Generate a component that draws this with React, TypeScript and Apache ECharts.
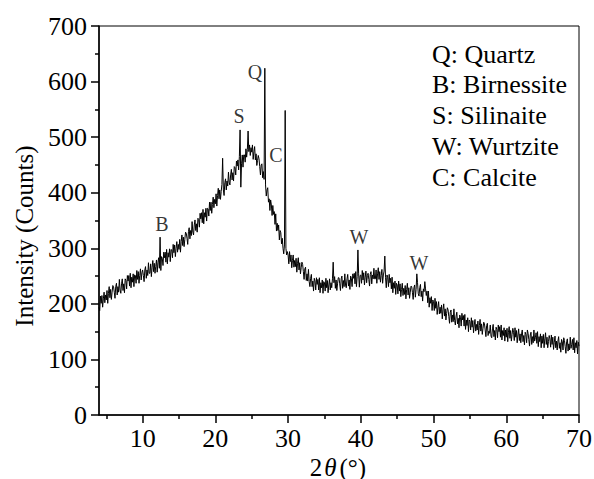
import React, { useEffect, useRef } from "react";
import * as echarts from "echarts";

// 2θ sampling: each segment starts at the given angle, step 0.1°
const STEP = 0.1;

// Intensity (counts), 4.0° – 19.9° (one row per degree)
const seg04 = [
  194, 188, 214, 201, 215, 194, 209, 221, 202, 216,
  207, 224, 201, 219, 231, 211, 226, 208, 221, 233,
  231, 221, 210, 231, 237, 216, 231, 221, 244, 225,
  219, 236, 245, 224, 236, 220, 245, 242, 227, 251,
  241, 251, 232, 255, 229, 248, 239, 254, 231, 252,
  251, 237, 260, 244, 258, 237, 251, 263, 243, 256,
  261, 251, 240, 261, 267, 246, 261, 251, 274, 255,
  255, 272, 249, 266, 278, 258, 273, 255, 267, 279,
  257, 274, 283, 264, 320, 260, 285, 282, 269, 293,
  283, 293, 275, 298, 272, 292, 284, 299, 276, 298,
  297, 283, 307, 292, 306, 285, 300, 312, 293, 307,
  298, 316, 293, 312, 324, 305, 320, 303, 316, 329,
  327, 318, 307, 330, 337, 317, 332, 323, 348, 329,
  324, 342, 351, 332, 344, 329, 354, 352, 338, 363,
  353, 364, 346, 370, 344, 364, 356, 372, 349, 372,
  371, 358, 383, 368, 383, 363, 379, 392, 373, 388,
];
// 20.0° – 35.9°
const seg20 = [
  380, 398, 376, 395, 408, 389, 405, 388, 402, 415,
  462, 405, 395, 418, 425, 405, 421, 412, 437, 419,
  414, 432, 442, 423, 436, 421, 447, 445, 432, 457,
  448, 459, 441, 465, 513, 410, 452, 468, 446, 468,
  468, 455, 479, 464, 478, 511, 474, 486, 467, 481,
  473, 486, 460, 474, 483, 459, 470, 449, 458, 467,
  461, 447, 432, 450, 452, 427, 438, 424, 624, 414,
  394, 405, 409, 383, 389, 368, 387, 378, 359, 377,
  361, 366, 343, 362, 331, 345, 332, 342, 315, 332,
  328, 308, 318, 300, 290, 306, 548, 300, 288, 294,
  288, 272, 294, 276, 288, 265, 278, 288, 266, 278,
  267, 282, 257, 273, 283, 261, 274, 254, 265, 275,
  271, 258, 244, 263, 266, 242, 254, 241, 262, 240,
  231, 246, 253, 231, 241, 223, 246, 241, 225, 247,
  235, 244, 225, 247, 220, 238, 229, 243, 219, 240,
  238, 223, 246, 229, 242, 220, 234, 245, 225, 238,
];
// 36.0° – 51.9°
const seg36 = [
  229, 245, 275, 238, 249, 228, 243, 224, 236, 247,
  247, 236, 224, 245, 250, 228, 242, 231, 254, 234,
  229, 245, 253, 232, 243, 226, 250, 246, 231, 254,
  246, 255, 236, 258, 231, 249, 297, 254, 230, 251,
  252, 237, 260, 243, 256, 234, 248, 259, 238, 251,
  255, 244, 232, 253, 258, 236, 252, 245, 264, 245,
  245, 261, 237, 254, 265, 244, 258, 239, 251, 262,
  237, 252, 259, 286, 247, 229, 252, 247, 231, 253,
  238, 246, 227, 248, 220, 238, 228, 241, 217, 237,
  234, 218, 241, 223, 236, 213, 226, 237, 215, 228,
  217, 233, 209, 226, 237, 216, 229, 210, 221, 232,
  231, 220, 208, 229, 234, 212, 226, 254, 238, 218,
  214, 229, 235, 213, 223, 205, 227, 222, 240, 227,
  215, 223, 202, 223, 194, 211, 201, 213, 188, 207,
  204, 188, 210, 192, 204, 181, 194, 204, 182, 194,
  183, 198, 173, 190, 200, 178, 191, 171, 183, 193,
];
// 52.0° – 70.0°
const seg52 = [
  189, 177, 165, 185, 189, 167, 180, 168, 191, 170,
  162, 178, 185, 164, 174, 157, 180, 176, 160, 183,
  171, 179, 160, 181, 154, 171, 161, 175, 150, 171,
  168, 153, 175, 158, 170, 148, 162, 172, 151, 163,
  153, 169, 145, 161, 172, 151, 164, 145, 156, 167,
  164, 153, 141, 161, 165, 143, 151, 147, 162, 142,
  139, 155, 163, 141, 152, 135, 158, 154, 139, 162,
  150, 159, 140, 162, 135, 152, 143, 157, 133, 153,
  140, 156, 132, 149, 159, 138, 152, 133, 145, 156,
  149, 134, 157, 140, 152, 130, 144, 155, 134, 146,
  130, 146, 153, 132, 143, 126, 149, 145, 130, 153,
  147, 136, 124, 144, 149, 127, 141, 130, 153, 133,
  139, 148, 129, 150, 123, 141, 132, 146, 121, 142,
  129, 145, 121, 137, 148, 127, 140, 121, 132, 143,
  137, 122, 144, 127, 140, 118, 131, 142, 121, 133,
  117, 133, 141, 120, 130, 113, 136, 132, 117, 139,
  134, 123, 111, 132, 137, 115, 128, 117, 140, 120,
  127, 136, 117, 139, 112, 130, 121, 134, 110, 131,
  124,
];
const segments: [number, number[]][] = [
  [4, seg04],
  [20, seg20],
  [36, seg36],
  [52, seg52],
];

const xMajorTicks = [10, 20, 30, 40, 50, 60, 70];
const xMinorTicks = [5, 15, 25, 35, 45, 55, 65];

// Peak annotations: label, 2θ, counts (label position)
const peakLabels: [string, number, number][] = [
  ["B", 12.66, 344],
  ["S", 23.25, 538],
  ["Q", 25.45, 617],
  ["C", 28.34, 468],
  ["W", 39.75, 320],
  ["W", 48.0, 274],
];

const legendLines = [
  "Q: Quartz",
  "B: Birnessite",
  "S: Silinaite",
  "W: Wurtzite",
  "C: Calcite",
];

const FONT = "Liberation Serif";

export default function App() {
  const ref = useRef<HTMLDivElement>(null);
  useEffect(() => {
    if (!ref.current) return;
    const chart = echarts.init(ref.current, null, { renderer: "svg" });
    const data: [number, number][] = [];
    segments.forEach(([start, vals]) => {
      vals.forEach((v, i) => data.push([+(start + i * STEP).toFixed(1), v]));
    });
    const axisColor = "#000";
    chart.setOption({
      animation: false,
      backgroundColor: "#fff",
      textStyle: { fontFamily: FONT },
      grid: {
        left: 99,
        right: 15,
        top: 26,
        bottom: 64,
        containLabel: false,
        outerBoundsMode: "none",
        show: true,
        borderColor: "#000",
        borderWidth: 1,
      },
      xAxis: [
        {
          type: "value",
          min: 4,
          max: 70,
          position: "bottom",
          axisLine: { onZero: false, lineStyle: { color: axisColor, width: 1.5 } },
          axisTick: {
            inside: false,
            length: 8,
            customValues: xMajorTicks,
            lineStyle: { color: axisColor, width: 1.5 },
          },
          axisLabel: {
            customValues: xMajorTicks,
            color: "#000",
            fontSize: 26,
            fontFamily: FONT,
            margin: 10,
          },
          splitLine: { show: false },
        },
        {
          type: "value",
          min: 4,
          max: 70,
          position: "bottom",
          offset: 0,
          axisLine: { show: false, onZero: false },
          axisTick: {
            inside: false,
            length: 4,
            customValues: xMinorTicks,
            lineStyle: { color: axisColor, width: 1.5 },
          },
          axisLabel: { show: false },
          splitLine: { show: false },
        },
      ],
      yAxis: {
        type: "value",
        min: 0,
        max: 700,
        interval: 100,
        axisLine: { show: true, onZero: false, lineStyle: { color: axisColor, width: 1.5 } },
        axisTick: { show: true, inside: false, length: 8, lineStyle: { color: axisColor, width: 1.5 } },
        minorTick: { show: true, splitNumber: 2, length: 4, lineStyle: { color: axisColor, width: 1.5 } },
        axisLabel: { color: "#000", fontSize: 26, fontFamily: FONT, margin: 12 },
        splitLine: { show: false },
      },
      series: [
        {
          type: "line",
          xAxisIndex: 0,
          data,
          symbol: "none",
          lineStyle: { color: "#000", width: 1 },
          silent: true,
        },
        {
          type: "scatter",
          xAxisIndex: 0,
          data: peakLabels.map(([t, x, y]) => ({ value: [x, y], name: t })),
          symbolSize: 0,
          label: {
            show: true,
            position: "inside",
            formatter: (p: any) => p.name,
            color: "#000",
            fontSize: 20,
            fontFamily: FONT,
          },
          silent: true,
        },
      ],
      graphic: [
        ...legendLines.map((t, i) => ({
          type: "text",
          left: 432,
          top: 54 + i * 30.75 - 13,
          style: { text: t, fill: "#000", fontSize: 26, fontFamily: FONT },
        })),
        {
          type: "text",
          x: 24,
          y: 236,
          rotation: Math.PI / 2,
          style: {
            text: "Intensity (Counts)",
            fill: "#000",
            fontSize: 25,
            fontFamily: FONT,
            align: "center",
            verticalAlign: "middle",
          },
        },
        {
          type: "text",
          x: 338,
          y: 467,
          style: {
            text: "{a|2}{b|θ}{a|(°)}",
            align: "center",
            verticalAlign: "middle",
            rich: {
              a: { fontSize: 25, fontFamily: FONT, fill: "#000", color: "#000" },
              b: { fontSize: 25, fontFamily: FONT, fontStyle: "italic", fill: "#000", color: "#000", padding: [0, 3, 0, 2] },
            },
          },
        },
      ],
    });
    return () => chart.dispose();
  }, []);
  return (
    <div
      ref={ref}
      style={{ position: "absolute", left: 0, top: 0, width: 594, height: 479 }}
    />
  );
}
